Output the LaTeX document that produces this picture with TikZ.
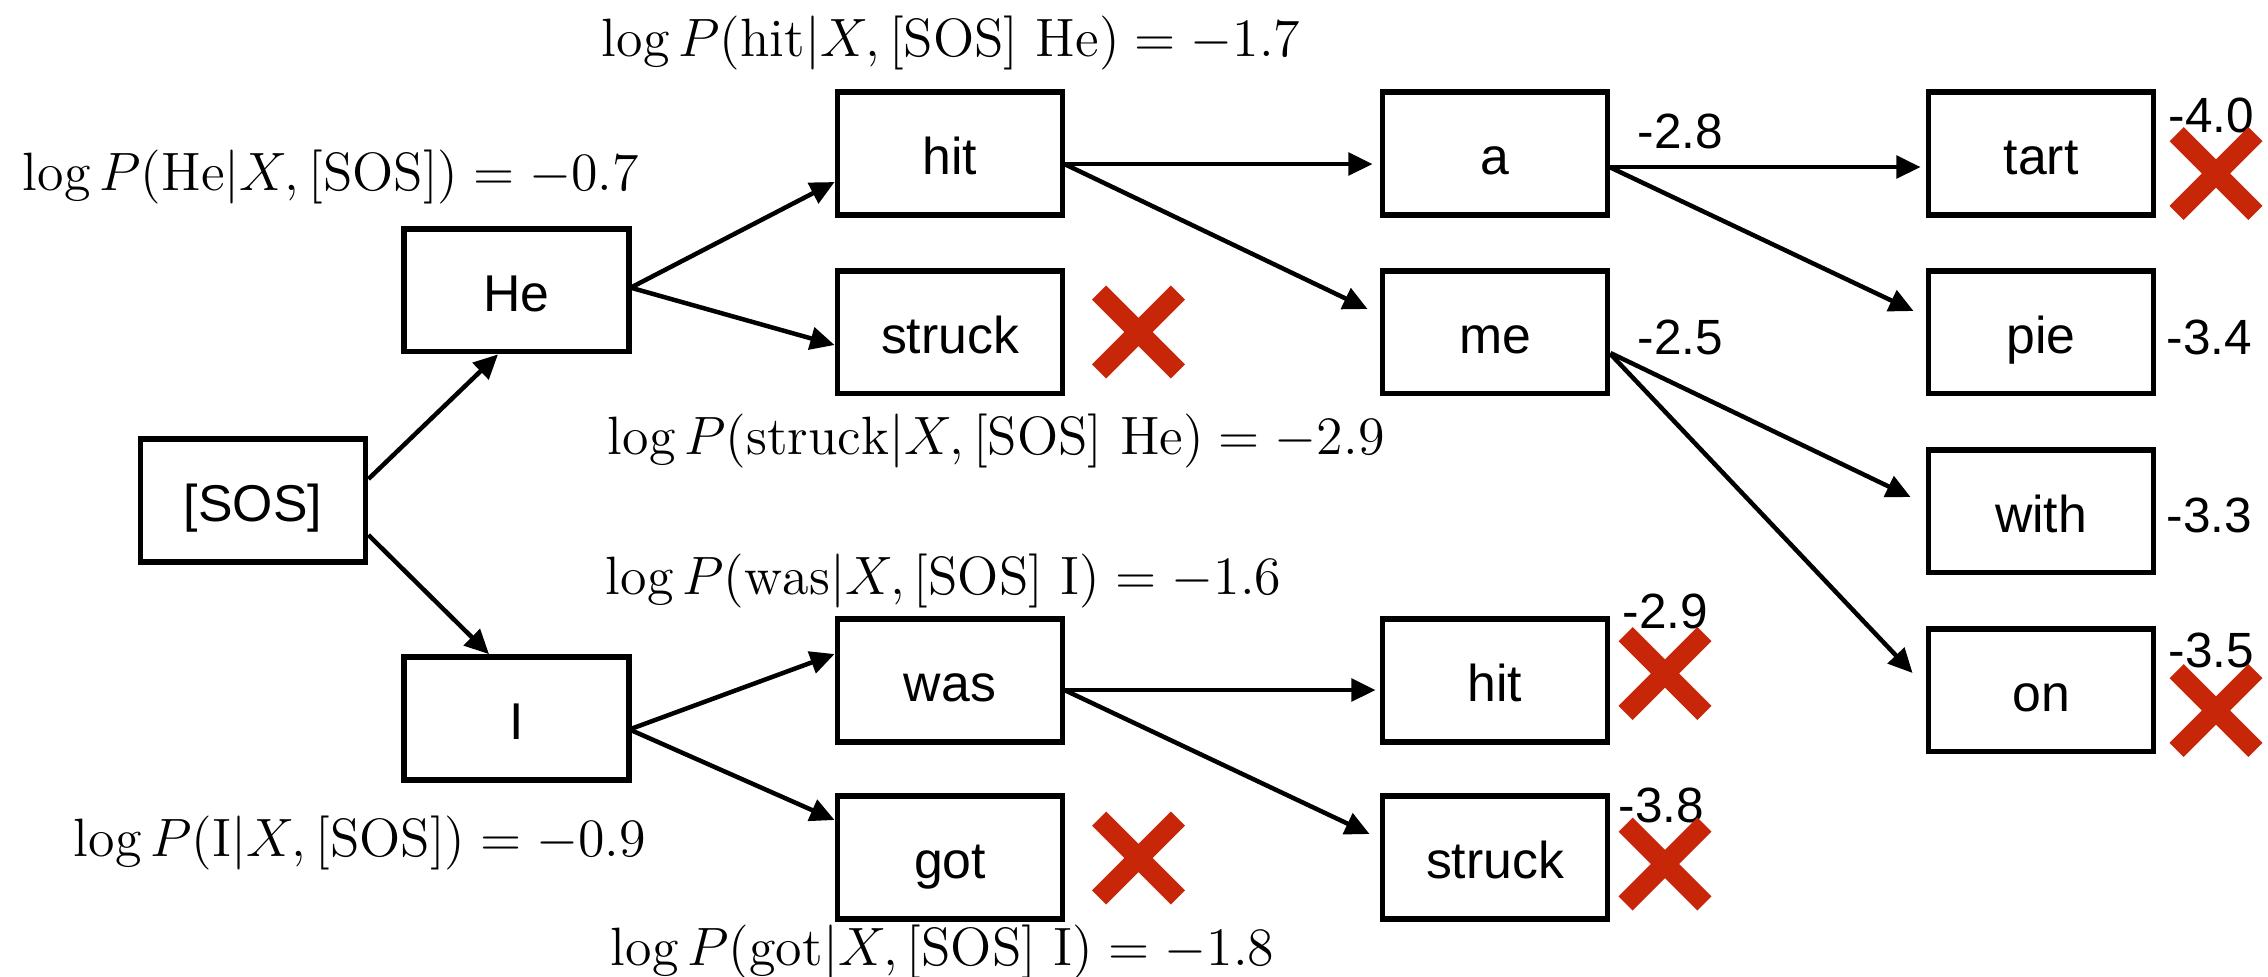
\documentclass[tikz,border=0pt]{standalone}
\usepackage{fontspec}
\newfontfamily\boxfont{Liberation Sans}
\usetikzlibrary{arrows.meta}
\definecolor{xcol}{RGB}{199,38,8}
\def\pxu{0.2222pt}
\begin{document}
\begin{tikzpicture}[x=0.2222pt,y=-0.2222pt,
  box/.style={draw, line width=1.3pt, minimum width=50pt, minimum height=27.3pt, inner sep=0pt, text height=9.34pt, text depth=0pt, font=\boxfont\fontsize{11.5}{13}\selectfont},
  conn/.style={-{Triangle[length=5.4pt,width=5pt]}, line width=1pt},
  lbl/.style={anchor=base west, inner sep=0pt, font=\fontsize{12}{14}\selectfont},
  score/.style={anchor=base west, inner sep=0pt, font=\boxfont\fontsize{11}{13}\selectfont},
  xmark/.pic={\draw[xcol, line width=4.44pt] (-39.4,-39.4) -- (39.4,39.4) (-39.4,39.4) -- (39.4,-39.4);}
]
\useasboundingbox (0,0) rectangle (2268,976);

% boxes
\node[box] (sos) at (253,500.5) {[SOS]};
\node[box] (he) at (516.5,290) {He};
\node[box] (i) at (516.5,718.5) {I};
\node[box] (hit) at (950,153.5) {hit};
\node[box] (struck) at (950,332) {struck};
\node[box] (was) at (950,680.5) {was};
\node[box] (got) at (950,857.5) {got};
\node[box] (a) at (1495,153.5) {a};
\node[box] (me) at (1495,332) {me};
\node[box] (hitb) at (1495,680.5) {hit};
\node[box] (struckb) at (1495,857.5) {struck};
\node[box] (tart) at (2041,153.5) {tart};
\node[box] (pie) at (2041,332) {pie};
\node[box] (with) at (2041,511) {with};
\node[box] (on) at (2041,690) {on};

% connectors
\draw[conn] ([yshift=21.5*\pxu]sos.east) -- ([xshift=-18.5*\pxu]he.south);
\draw[conn] ([yshift=-34.5*\pxu]sos.east) -- ([xshift=-27.5*\pxu]i.north);
\draw[conn] ([yshift=3*\pxu]he.east) -- ([yshift=-28.5*\pxu]hit.west);
\draw[conn] ([yshift=2*\pxu]he.east) -- ([yshift=-13*\pxu]struck.west);
\draw[conn] ([yshift=-10*\pxu]i.east) -- ([yshift=26.5*\pxu]was.west);
\draw[conn] ([yshift=-12*\pxu]i.east) -- ([yshift=37.5*\pxu]got.west);
\draw[conn] ([yshift=-10.5*\pxu]hit.east) -- ([yshift=-10.5*\pxu,xshift=-7*\pxu]a.west);
\draw[conn] ([yshift=-11*\pxu]hit.east) -- ([yshift=23*\pxu,xshift=-12*\pxu]me.west);
\draw[conn] ([yshift=-9.5*\pxu]was.east) -- ([yshift=-9.5*\pxu,xshift=-4*\pxu]hitb.west);
\draw[conn] ([yshift=-10*\pxu]was.east) -- ([yshift=23.5*\pxu,xshift=-10*\pxu]struckb.west);
\draw[conn] ([yshift=-13.5*\pxu]a.east) -- ([yshift=-13.5*\pxu,xshift=-5*\pxu]tart.west);
\draw[conn] ([yshift=-14*\pxu]a.east) -- ([yshift=21*\pxu,xshift=-12*\pxu]pie.west);
\draw[conn] ([yshift=-21*\pxu]me.east) -- ([yshift=14*\pxu,xshift=-15*\pxu]with.west);
\draw[conn] ([yshift=-22*\pxu]me.east) -- ([yshift=17*\pxu,xshift=-13*\pxu]on.west);

% probability labels
\node[lbl] (lhe) at (22,190) {$\log P(\mathrm{He}|X,[\mathrm{SOS}])=-0.7$};
\node[lbl] (lhit) at (601,56) {$\log P(\mathrm{hit}|X,[\mathrm{SOS}]\ \mathrm{He})=-1.7$};
\node[lbl] (lstruck) at (607,454) {$\log P(\mathrm{struck}|X,[\mathrm{SOS}]\ \mathrm{He})=-2.9$};
\node[lbl] (lwas) at (605,594) {$\log P(\mathrm{was}|X,[\mathrm{SOS}]\ \mathrm{I})=-1.6$};
\node[lbl] (li) at (73,856) {$\log P(\mathrm{I}|X,[\mathrm{SOS}])=-0.9$};
\node[lbl] (lgot) at (610,965) {$\log P(\mathrm{got}|X,[\mathrm{SOS}]\ \mathrm{I})=-1.8$};

% scores
\node[score] (s1) at (1637,148) {-2.8};
\node[score] (s2) at (1637,354) {-2.5};
\node[score] (s3) at (1622,628) {-2.9};
\node[score] (s4) at (1618,822) {-3.8};
\node[score] (s5) at (2168,132) {-4.0};
\node[score] (s6) at (2166,354) {-3.4};
\node[score] (s7) at (2166,532) {-3.3};
\node[score] (s8) at (2168,667) {-3.5};

% rejection marks
\pic (x1) at (1138.5,332) {xmark};
\pic (x2) at (1138.5,858) {xmark};
\pic (x3) at (1665,673.5) {xmark};
\pic (x4) at (1665,864) {xmark};
\pic (x5) at (2216,173.5) {xmark};
\pic (x6) at (2216,710.5) {xmark};
\end{tikzpicture}
\end{document}
